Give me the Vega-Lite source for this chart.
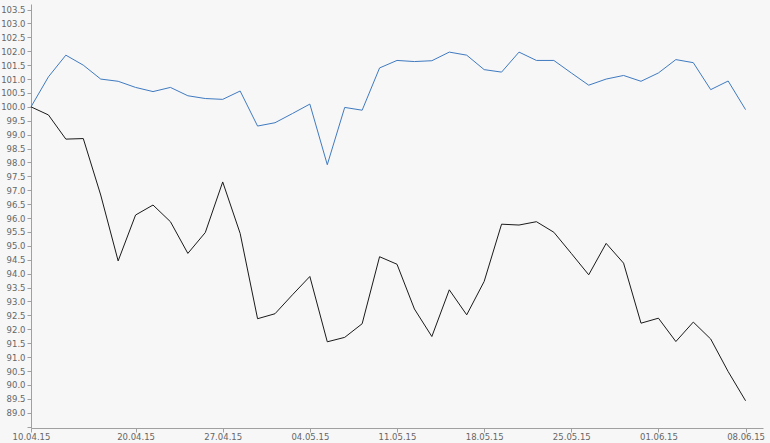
{
  "$schema": "https://vega.github.io/schema/vega-lite/v6.json",
  "width": 732,
  "height": 424,
  "autosize": {"type": "none"},
  "padding": {"left": 31, "top": 4, "right": 7, "bottom": 15},
  "background": "#f7f7f7",
  "config": {"view": {"stroke": null}},
  "datasets": {
    "blue": [
      {"date":"10.04.15","value":100.0},{"date":"13.04.15","value":101.08},{"date":"14.04.15","value":101.86},{"date":"15.04.15","value":101.5},{"date":"16.04.15","value":101.0},
      {"date":"17.04.15","value":100.92},{"date":"20.04.15","value":100.7},{"date":"21.04.15","value":100.55},{"date":"22.04.15","value":100.7},{"date":"23.04.15","value":100.4},
      {"date":"24.04.15","value":100.3},{"date":"27.04.15","value":100.27},{"date":"28.04.15","value":100.57},{"date":"29.04.15","value":99.31},{"date":"30.04.15","value":99.43},
      {"date":"01.05.15","value":99.76},{"date":"04.05.15","value":100.1},{"date":"05.05.15","value":97.92},{"date":"06.05.15","value":99.98},{"date":"07.05.15","value":99.88},
      {"date":"08.05.15","value":101.4},{"date":"11.05.15","value":101.67},{"date":"12.05.15","value":101.63},{"date":"13.05.15","value":101.66},{"date":"14.05.15","value":101.97},
      {"date":"15.05.15","value":101.86},{"date":"18.05.15","value":101.34},{"date":"19.05.15","value":101.25},{"date":"20.05.15","value":101.97},{"date":"21.05.15","value":101.67},
      {"date":"22.05.15","value":101.67},{"date":"25.05.15","value":101.22},{"date":"26.05.15","value":100.78},{"date":"27.05.15","value":101.0},{"date":"28.05.15","value":101.13},
      {"date":"29.05.15","value":100.92},{"date":"01.06.15","value":101.22},{"date":"02.06.15","value":101.7},{"date":"03.06.15","value":101.59},{"date":"04.06.15","value":100.62},
      {"date":"05.06.15","value":100.93},{"date":"08.06.15","value":99.9}
    ],
    "black": [
      {"date":"10.04.15","value":100.0},{"date":"13.04.15","value":99.71},{"date":"14.04.15","value":98.84},{"date":"15.04.15","value":98.86},{"date":"16.04.15","value":96.83},
      {"date":"17.04.15","value":94.46},{"date":"20.04.15","value":96.11},{"date":"21.04.15","value":96.47},{"date":"22.04.15","value":95.87},{"date":"23.04.15","value":94.73},
      {"date":"24.04.15","value":95.48},{"date":"27.04.15","value":97.3},{"date":"28.04.15","value":95.45},{"date":"29.04.15","value":92.38},{"date":"30.04.15","value":92.56},
      {"date":"01.05.15","value":93.24},{"date":"04.05.15","value":93.9},{"date":"05.05.15","value":91.55},{"date":"06.05.15","value":91.71},{"date":"07.05.15","value":92.2},
      {"date":"08.05.15","value":94.61},{"date":"11.05.15","value":94.34},{"date":"12.05.15","value":92.73},{"date":"13.05.15","value":91.74},{"date":"14.05.15","value":93.42},
      {"date":"15.05.15","value":92.52},{"date":"18.05.15","value":93.72},{"date":"19.05.15","value":95.78},{"date":"20.05.15","value":95.75},{"date":"21.05.15","value":95.87},
      {"date":"22.05.15","value":95.49},{"date":"25.05.15","value":94.73},{"date":"26.05.15","value":93.96},{"date":"27.05.15","value":95.09},{"date":"28.05.15","value":94.38},
      {"date":"29.05.15","value":92.22},{"date":"01.06.15","value":92.4},{"date":"02.06.15","value":91.56},{"date":"03.06.15","value":92.26},{"date":"04.06.15","value":91.65},
      {"date":"05.06.15","value":90.48},{"date":"08.06.15","value":89.43}
    ]
  },
  "encoding": {
    "x": {
      "field": "date", "type": "ordinal", "sort": null,
      "scale": {"type": "point", "padding": 0.5, "align": 0},
      "axis": {
        "title": null,
        "values": ["10.04.15","20.04.15","27.04.15","04.05.15","11.05.15","18.05.15","25.05.15","01.06.15","08.06.15"],
        "labelAngle": 0, "labelFont": "DejaVu Sans", "labelFontSize": 8.5, "labelColor": "#666666",
        "domainColor": "#a0a0a0", "tickColor": "#a0a0a0", "tickSize": 4, "labelPadding": 0,
        "grid": false, "labelOverlap": false, "labelBound": false
      }
    },
    "y": {
      "field": "value", "type": "quantitative",
      "scale": {"domain": [88.45, 103.7], "zero": false, "nice": false},
      "axis": {
        "title": null,
        "values": [88.5,89,89.5,90,90.5,91,91.5,92,92.5,93,93.5,94,94.5,95,95.5,96,96.5,97,97.5,98,98.5,99,99.5,100,100.5,101,101.5,102,102.5,103,103.5],
        "labelExpr": "datum.value < 88.9 ? '' : format(datum.value, '.1f')",
        "labelFont": "DejaVu Sans", "labelFontSize": 8.5, "labelColor": "#666666",
        "domainColor": "#a0a0a0", "tickColor": "#a0a0a0", "tickSize": 4, "labelPadding": 2,
        "grid": false, "labelOverlap": false
      }
    }
  },
  "layer": [
    {"data": {"name": "blue"}, "mark": {"type": "line", "color": "#3f7ac0", "strokeWidth": 1}},
    {"data": {"name": "black"}, "mark": {"type": "line", "color": "#1a1a1a", "strokeWidth": 1}}
  ]
}
